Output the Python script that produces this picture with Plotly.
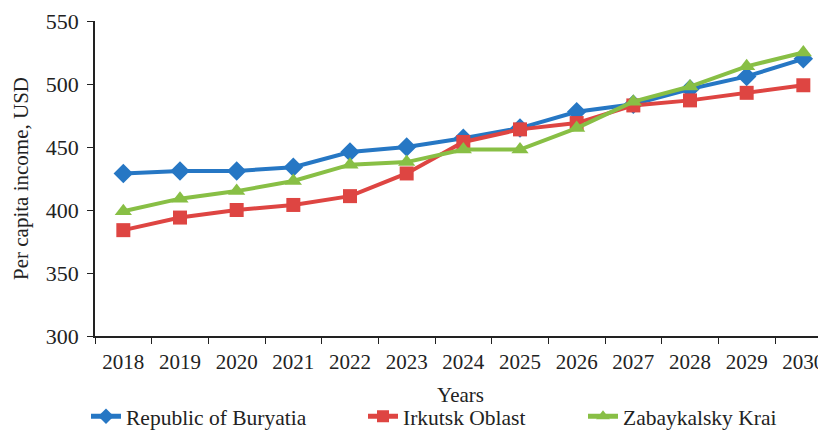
import plotly.graph_objects as go

years = [str(y) for y in range(2018, 2031)]
buryatia = [429, 431, 431, 434, 446, 450, 457, 465, 478, 484, 496, 506, 520]
irkutsk = [384, 394, 400, 404, 411, 429, 454, 464, 469, 483, 487, 493, 499]
zabaykalsky = [399, 409, 415, 423, 436, 438, 448, 448, 465, 486, 498, 514, 525]

series = [
    ("Republic of Buryatia", buryatia, "#2677C4", "diamond", 15, "legend"),
    ("Irkutsk Oblast", irkutsk, "#DE4542", "square", 14, "legend2"),
    ("Zabaykalsky Krai", zabaykalsky, "#88BF45", "triangle-up", 15, "legend3"),
]

fig = go.Figure()
for name, vals, color, symbol, size, leg in series:
    fig.add_trace(go.Scatter(
        x=years, y=vals, name=name, mode="lines+markers",
        line=dict(color=color, width=4),
        marker=dict(symbol=symbol, size=size, color=color),
        legend=leg,
    ))

font = "Liberation Serif, 'Times New Roman', serif"
# the page body has an 8px margin, so the figure is drawn 8px smaller
# and every pixel position below is measured from that offset
offset = 8
plot_left, plot_w = 95 - offset, 731


def legend_at(text_x):
    # text_x: page pixel where legend text starts
    return dict(
        x=(text_x - offset - 42 - plot_left) / plot_w, xanchor="left",
        y=-0.255, yanchor="middle", orientation="h",
        font=dict(family=font, size=21.5, color="#222222"),
        itemsizing="constant", bgcolor="rgba(0,0,0,0)",
    )


fig.update_layout(
    width=826 - offset, height=434 - offset,
    margin=dict(l=plot_left, r=0, t=21 - offset, b=98, autoexpand=False),
    paper_bgcolor="white", plot_bgcolor="white",
    font=dict(family=font, size=21, color="#222222"),
    showlegend=True,
    legend=legend_at(128),
    legend2=legend_at(405),
    legend3=legend_at(625),
)
fig.update_xaxes(
    type="category", range=[-0.5, 12.4], automargin=False,
    showline=True, linecolor="#222222", linewidth=1.5,
    ticks="outside", tickson="boundaries", ticklen=6, tickcolor="#222222",
    ticklabelstandoff=6,
    showgrid=False, zeroline=False,
    title=dict(text="Years", font=dict(size=21), standoff=14),
)
fig.update_yaxes(
    range=[300, 550], dtick=50, automargin=False,
    showline=True, linecolor="#222222", linewidth=1.5,
    ticks="outside", ticklen=6, tickcolor="#222222",
    ticklabelstandoff=4, tickfont=dict(size=22),
    showgrid=False, zeroline=False,
    title=dict(text="Per capita income, USD", font=dict(size=21), standoff=11),
)

fig.write_html("out.html")
